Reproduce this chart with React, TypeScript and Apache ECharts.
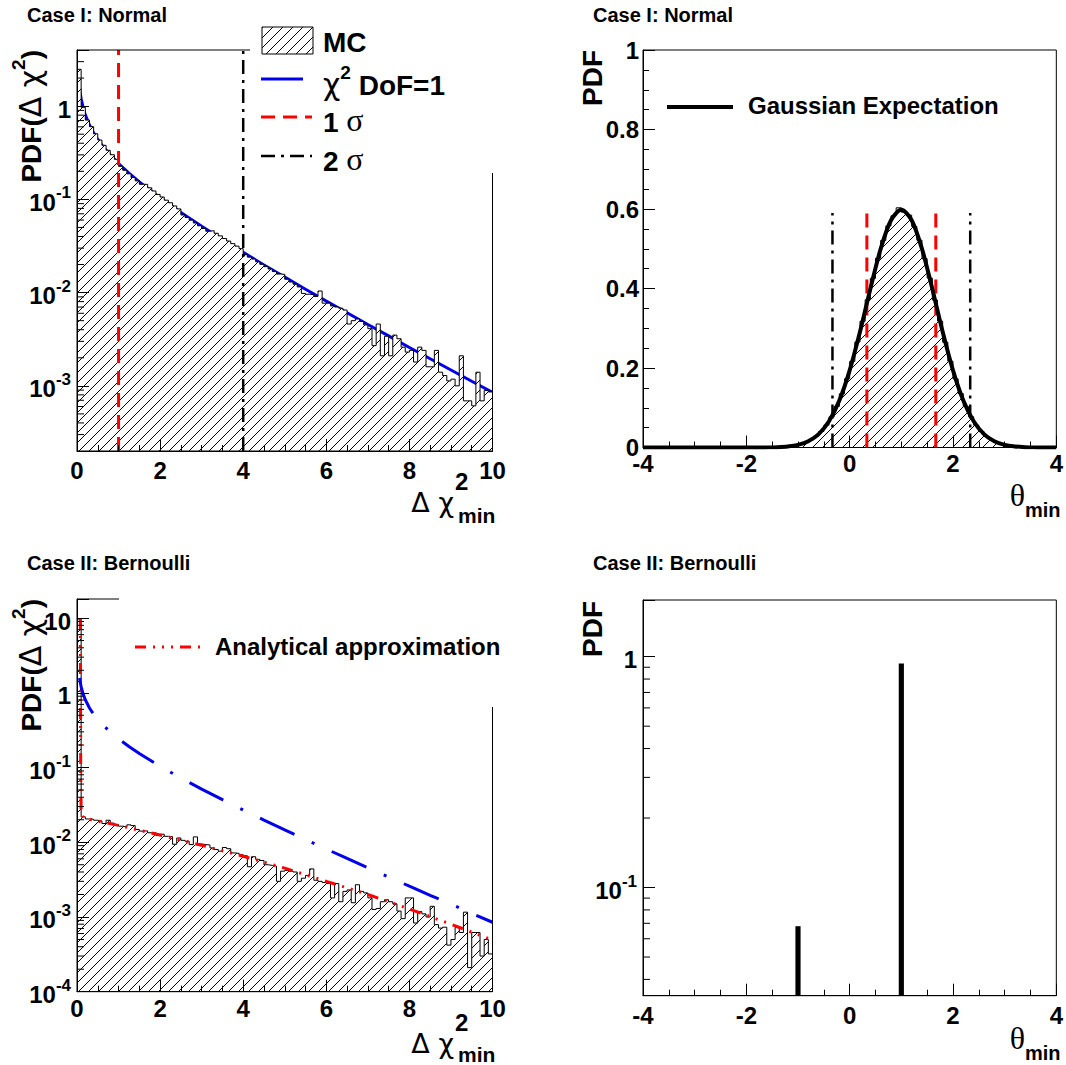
import React, { useEffect, useRef } from "react";
import * as echarts from "echarts";

const SANS = '"Liberation Sans", Arial, Helvetica, sans-serif';
const SERIF = '"Liberation Serif", "DejaVu Serif", "Times New Roman", serif';
const GREEK = '"DejaVu Sans", "Liberation Sans", sans-serif';
const BLUE = "#0000ee";
const RED = "#ff0000";

// ---------- axis ranges ----------
const DCHI2_RANGE = [0, 10];
const THETA_RANGE = [-4, 4];
const NORMAL_PDF_RANGE = [2e-4, 4];
const NORMAL_THETA_PDF_RANGE = [0, 1];
const BERN_PDF_RANGE = [1e-4, 18];
const BERN_THETA_PDF_RANGE = [0.034, 1.76];

// ---------- Case I: Normal, Δχ²_min histogram (bins of 0.1 on [0,10]) ----------
const DCHI2_BIN_WIDTH = 0.1;
const NORMAL_DCHI2_HIST = [
  2.482, 0.971, 0.7085, 0.602, 0.505, 0.433, 0.38, 0.336, 0.301, 0.269,
  0.226, 0.205, 0.188, 0.172, 0.158, 0.145, 0.145, 0.133, 0.123, 0.113,
  0.106, 0.098, 0.092, 0.085, 0.079, 0.068, 0.064, 0.0598, 0.0558, 0.0521,
  0.0487, 0.0455, 0.0462, 0.0433, 0.0406, 0.038, 0.0357, 0.0335, 0.0315, 0.0296,
  0.0255, 0.024, 0.0229, 0.0214, 0.0201, 0.019, 0.0179, 0.0168, 0.0158, 0.0157,
  0.0139, 0.013, 0.0123, 0.0115, 0.0098, 0.0096, 0.0095, 0.0091, 0.0104, 0.0077,
  0.0077, 0.0072, 0.007, 0.0068, 0.0065, 0.0046, 0.005, 0.0052, 0.0049, 0.0045,
  0.0041, 0.0027, 0.0046, 0.0021, 0.0034, 0.0021, 0.0035, 0.0032, 0.0026, 0.0023,
  0.0024, 0.0018, 0.0026, 0.0024, 0.0016, 0.0016, 0.0024, 0.0014, 0.00129, 0.00113,
  0.00118, 0.001, 0.0021, 0.00069, 0.00069, 0.00061, 0.0014, 0.00069, 0.00089, 0.00086,
];

// ---------- Case II: Bernoulli, Δχ²_min histogram ----------
const BERNOULLI_DCHI2_HIST = [
  9.7, 0.0219, 0.0205, 0.0203, 0.0197, 0.0193, 0.0178, 0.0197, 0.018, 0.0172,
  0.0164, 0.0161, 0.0171, 0.0167, 0.0148, 0.0141, 0.0142, 0.0134, 0.0134, 0.0123,
  0.0128, 0.012, 0.0119, 0.0094, 0.0114, 0.0106, 0.0103, 0.0093, 0.0118, 0.0095,
  0.0093, 0.0092, 0.0084, 0.008, 0.0076, 0.0085, 0.0082, 0.0072, 0.0071, 0.0068,
  0.0066, 0.0047, 0.0064, 0.0059, 0.0057, 0.005, 0.0049, 0.0048, 0.003, 0.0041,
  0.0042, 0.0041, 0.004, 0.003, 0.0033, 0.0036, 0.0044, 0.0031, 0.003, 0.0029,
  0.0028, 0.0018, 0.0028, 0.0016, 0.0022, 0.0023, 0.00155, 0.0027, 0.0022, 0.0021,
  0.0018, 0.00126, 0.0013, 0.0016, 0.0017, 0.0016, 0.0015, 0.0012, 0.00095, 0.0018,
  0.0018, 0.00083, 0.00118, 0.0011, 0.001, 0.00139, 0.00079, 0.00071, 0.00073, 0.00042,
  0.0005, 0.00072, 0.00062, 0.00116, 0.00021, 0.00062, 0.00062, 0.0003, 0.0005, 0.00032,
];

// ---------- χ² (1 DoF) curve ----------
const CHI2_X = [0.06, 0.1, 0.15, 0.2, 0.3, 0.4, 0.5, 0.6, 0.8, 1, 1.25, 1.5, 2, 2.5, 3, 3.5, 4, 4.5, 5, 5.5, 6, 6.5, 7, 7.5, 8, 8.5, 9, 9.5, 10];
const CHI2_Y = [1.58, 1.2, 0.956, 0.807, 0.627, 0.516, 0.439, 0.382, 0.299, 0.242, 0.191, 0.154, 0.1038, 0.0723, 0.0514, 0.0371, 0.027, 0.0198, 0.01464, 0.01087, 0.00811, 0.00607, 0.00455, 0.00343, 0.00258, 0.00195, 0.00148, 0.00112, 0.00085];

// ---------- analytical approximation (Bernoulli) ----------
const APPROX_X = [0.08, 0.085, 0.09, 0.1, 0.15, 0.5, 1, 2, 3, 4, 5, 6, 7, 8, 9, 10];
const APPROX_Y = [10, 1, 0.08, 0.025, 0.0213, 0.0192, 0.0168, 0.0125, 0.0091, 0.0065, 0.0045, 0.003, 0.002, 0.00128, 0.0008, 0.00049];

// ---------- Case I: Normal, θ_min histogram ----------
const THETA_HIST_START = -1.3;
const THETA_BIN_WIDTH = 0.1;
const NORMAL_THETA_HIST = [
  0.002, 0.0033, 0.0053, 0.0083, 0.0127, 0.0191, 0.028, 0.0401, 0.0562, 0.077,
  0.1031, 0.1351, 0.173, 0.2167, 0.2653, 0.3176, 0.3718, 0.4255, 0.4762, 0.521,
  0.5574, 0.583, 0.603, 0.592, 0.5845, 0.556, 0.5215, 0.475, 0.4262, 0.371,
  0.318, 0.2648, 0.217, 0.1725, 0.1355, 0.1028, 0.0772, 0.056, 0.0403, 0.0278,
  0.0192, 0.0126, 0.0084, 0.0052, 0.0034, 0.002,
];

// Gaussian expectation
const GAUSS_X = [-4, -3, -2.2, -1.8, -1.6, -1.4, -1.2, -1, -0.8, -0.6, -0.4, -0.2, 0, 0.2, 0.4, 0.6, 0.8, 1, 1.2, 1.4, 1.6, 1.8, 2, 2.2, 2.4, 2.6, 2.8, 3, 3.2, 3.4, 3.6, 3.8, 4];
const GAUSS_Y = [0, 0, 0.00001, 0.0001, 0.0003, 0.00092, 0.00258, 0.00664, 0.0156, 0.0336, 0.0659, 0.1183, 0.1942, 0.2911, 0.3989, 0.4995, 0.5717, 0.598, 0.5717, 0.4995, 0.3989, 0.2911, 0.1942, 0.1183, 0.0659, 0.0336, 0.0156, 0.00664, 0.00258, 0.00092, 0.0003, 0.0001, 0];

// sigma lines
const SIGMA1_DCHI2 = 1;
const SIGMA2_DCHI2 = 4;
const SIGMA1_THETA = [0.333, 1.667];
const SIGMA2_THETA = [-0.333, 2.333];
const SIGMA_LINE_TOP = 0.59;

// ---------- Case II: Bernoulli θ_min ----------
const BERN_THETA_X = [-1, 1];
const BERN_THETA_Y = [0.068, 0.935];

// ---------- helpers ----------
const HATCH_SVG =
  "<svg xmlns='http://www.w3.org/2000/svg' width='10' height='10'>" +
  "<rect width='10' height='10' fill='#ffffff'/>" +
  "<path d='M-2,12L12,-2M-2,2L2,-2M8,12L12,8' stroke='#000000' stroke-width='1'/></svg>";
const HATCH_URL = "data:image/svg+xml;charset=utf-8," + encodeURIComponent(HATCH_SVG);
const hatch = () => ({ image: HATCH_URL, repeat: "repeat", imageWidth: 10, imageHeight: 10 });

function zip(xs: number[], ys: number[]) {
  return xs.map((x, i) => [x, ys[i]]);
}
function histSteps(start: number, width: number, vals: number[]) {
  const pts = vals.map((v, i) => [+(start + i * width).toFixed(4), v]);
  pts.push([+(start + vals.length * width).toFixed(4), vals[vals.length - 1]]);
  return pts;
}
function minorLogValues(min: number, max: number) {
  const out: number[] = [];
  for (let d = Math.floor(Math.log10(min)) - 1; d <= Math.ceil(Math.log10(max)); d++) {
    for (let m = 2; m <= 9; m++) {
      const v = m * Math.pow(10, d);
      if (v > min * 1.0001 && v < max * 0.9999) out.push(v);
    }
  }
  return out;
}
function logLabel(v: number) {
  const l = Math.log10(v);
  const e = Math.round(l);
  if (Math.abs(l - e) > 1e-6) return "";
  if (e === 0) return "{b|1}";
  if (e === 1) return "{b|10}";
  return "{b|10}{s|" + e + "}";
}

const AXIS_LINE = { show: true, onZero: false, lineStyle: { color: "#000", width: 1 } };
const MAJOR_TICK = { show: true, inside: true, length: 12, lineStyle: { color: "#000", width: 1 } };
const MINOR_TICK = { show: true, splitNumber: 4, length: 6, lineStyle: { color: "#000", width: 1 } };
const LABEL_BASE = { color: "#000", fontFamily: SANS, fontWeight: "bold", fontSize: 24 };

function linearAxis(gridIndex: number, range: number[], interval: number, margin: number) {
  return {
    type: "value", gridIndex, min: range[0], max: range[1], interval, z: 10,
    axisLine: AXIS_LINE, axisTick: MAJOR_TICK, minorTick: MINOR_TICK,
    splitLine: { show: false }, minorSplitLine: { show: false },
    axisLabel: { ...LABEL_BASE, margin },
  };
}
function logAxis(gridIndex: number, range: number[], margin: number) {
  return {
    type: "log", logBase: 10, gridIndex, min: range[0], max: range[1], z: 10,
    axisLine: AXIS_LINE, axisTick: MAJOR_TICK, minorTick: { show: false },
    splitLine: { show: false },
    axisLabel: {
      ...LABEL_BASE, margin, formatter: logLabel,
      rich: {
        b: { fontFamily: SANS, fontWeight: "bold", fontSize: 24, color: "#000", lineHeight: 30, verticalAlign: "bottom" },
        s: { fontFamily: SANS, fontWeight: "bold", fontSize: 17, color: "#000", lineHeight: 17, verticalAlign: "top" },
      },
    },
  };
}
function curve(grid: number, data: any[], color: string, width: number, type: any, z: number, extra: any = {}) {
  return {
    type: "line", xAxisIndex: grid, yAxisIndex: grid, data, symbol: "none", showSymbol: false,
    silent: true, z, lineStyle: { color, width, type }, ...extra,
  };
}
function hist(grid: number, data: any[]) {
  return {
    type: "line", xAxisIndex: grid, yAxisIndex: grid, data, step: "end", symbol: "none",
    showSymbol: false, silent: true, z: 2,
    lineStyle: { color: "#000", width: 1 },
    areaStyle: { color: hatch(), opacity: 1, origin: "start" },
  };
}
function minorLogTicks(grid: number, xMin: number, range: number[]) {
  return {
    type: "custom", xAxisIndex: grid, yAxisIndex: grid, silent: true, z: 6, clip: false,
    data: minorLogValues(range[0], range[1]).map((v) => [xMin, v]),
    renderItem: (params: any, api: any) => {
      const p = api.coord([api.value(0), api.value(1)]);
      return {
        type: "line",
        shape: { x1: p[0], y1: p[1], x2: p[0] + 7, y2: p[1] },
        style: { stroke: "#000", lineWidth: 1 },
      };
    },
  };
}

// text helpers for graphic
const RICH = (size: number, supSize: number) => ({
  b: { fontFamily: SANS, fontWeight: "bold", fontSize: size, fill: "#000", lineHeight: size + 8, verticalAlign: "bottom" },
  g: { fontFamily: SERIF, fontWeight: "normal", fontSize: size + 4, fill: "#000", lineHeight: size + 8, verticalAlign: "bottom" },
  h: { fontFamily: GREEK, fontWeight: "normal", fontSize: size + 2, fill: "#000", lineHeight: size + 8, verticalAlign: "bottom" },
  s: { fontFamily: SANS, fontWeight: "bold", fontSize: supSize, fill: "#000", lineHeight: supSize, verticalAlign: "top" },
});
function txt(text: string, x: number, y: number, size: number, opts: any = {}) {
  const align = opts.align || "left";
  return {
    type: "text", x, y, z: 120, silent: true,
    rotation: opts.rotation || 0,
    style: {
      text, fill: "#000",
      fontFamily: opts.family || SANS, fontWeight: opts.weight || "bold", fontSize: size,
      align, textAlign: align, verticalAlign: "middle", textVerticalAlign: "middle",
      rich: opts.rich,
    },
  };
}
function gline(x1: number, y1: number, x2: number, y2: number, color: string, width: number, dash?: number[]) {
  return {
    type: "line", z: 120, silent: true,
    shape: { x1, y1, x2, y2 },
    style: { stroke: color, lineWidth: width, lineDash: dash || null },
  };
}

function buildOption() {
  const grids = [
    { left: 77, top: 50, width: 415.5, height: 401 },
    { left: 643, top: 50, width: 416, height: 397.5 },
    { left: 77, top: 599, width: 415.5, height: 392.7 },
    { left: 643, top: 600, width: 416, height: 395.7 },
  ].map((g) => ({ ...g, show: true, borderColor: "#000", borderWidth: 1, backgroundColor: "transparent", z: 10 }));

  const series: any[] = [
    // ---- top-left ----
    curve(0, zip(CHI2_X, CHI2_Y), BLUE, 3, "solid", 1),
    hist(0, histSteps(DCHI2_RANGE[0], DCHI2_BIN_WIDTH, NORMAL_DCHI2_HIST)),
    curve(0, [[SIGMA1_DCHI2, NORMAL_PDF_RANGE[0]], [SIGMA1_DCHI2, NORMAL_PDF_RANGE[1]]], RED, 3, [14, 8], 3),
    curve(0, [[SIGMA2_DCHI2, NORMAL_PDF_RANGE[0]], [SIGMA2_DCHI2, NORMAL_PDF_RANGE[1]]], "#000", 2.5, [14, 6, 3, 6], 3),
    minorLogTicks(0, DCHI2_RANGE[0], NORMAL_PDF_RANGE),
    // ---- top-right ----
    hist(1, histSteps(THETA_HIST_START, THETA_BIN_WIDTH, NORMAL_THETA_HIST)),
    ...SIGMA1_THETA.map((x) => curve(1, [[x, 0], [x, SIGMA_LINE_TOP]], RED, 3, [14, 8], 3)),
    ...SIGMA2_THETA.map((x) => curve(1, [[x, 0], [x, SIGMA_LINE_TOP]], "#000", 2.5, [14, 6, 3, 6], 3)),
    curve(1, zip(GAUSS_X, GAUSS_Y), "#000", 4, "solid", 4, { smooth: 0.3 }),
    // ---- bottom-left ----
    hist(2, histSteps(DCHI2_RANGE[0], DCHI2_BIN_WIDTH, BERNOULLI_DCHI2_HIST)),
    curve(2, zip(APPROX_X, APPROX_Y), RED, 3, [11, 7, 2, 7, 2, 7, 2, 7], 3),
    curve(2, zip(CHI2_X, CHI2_Y), BLUE, 3, [38, 19, 3, 19], 4),
    minorLogTicks(2, DCHI2_RANGE[0], BERN_PDF_RANGE),
    // ---- bottom-right ----
    {
      type: "custom", xAxisIndex: 3, yAxisIndex: 3, silent: true, z: 3,
      data: zip(BERN_THETA_X, BERN_THETA_Y),
      renderItem: (params: any, api: any) => {
        const x = api.value(0);
        const y = api.value(1);
        const l = api.coord([x - THETA_BIN_WIDTH / 2, y]);
        const r = api.coord([x + THETA_BIN_WIDTH / 2, y]);
        const cs = params.coordSys;
        return {
          type: "rect",
          shape: { x: l[0], y: l[1], width: r[0] - l[0], height: cs.y + cs.height - l[1] },
          style: { fill: "#000" },
        };
      },
    },
    minorLogTicks(3, THETA_RANGE[0], BERN_THETA_PDF_RANGE),
  ];

  const pdfChi = "{b|PDF(}{h|Δ χ}{s|2}{b|)}";
  const graphicEls: any[] = [
    // titles
    txt("Case I: Normal", 27, 15, 20),
    txt("Case I: Normal", 593, 15, 20),
    txt("Case II: Bernoulli", 27, 563, 20),
    txt("Case II: Bernoulli", 593, 563, 20),
    // y titles
    txt(pdfChi, 27, 50, 28, { align: "right", rotation: Math.PI / 2, rich: RICH(28, 19) }),
    txt(pdfChi, 27, 599, 28, { align: "right", rotation: Math.PI / 2, rich: RICH(28, 19) }),
    txt("PDF", 592, 50, 28, { align: "right", rotation: Math.PI / 2 }),
    txt("PDF", 592, 601, 28, { align: "right", rotation: Math.PI / 2 }),
    // x titles (Δχ²_min)
    txt("Δ χ", 454, 502, 27, { align: "right", family: GREEK, weight: "normal" }),
    txt("2", 455, 481, 24),
    txt("min", 458, 515, 21),
    txt("Δ χ", 454, 1043, 27, { align: "right", family: GREEK, weight: "normal" }),
    txt("2", 455, 1022, 24),
    txt("min", 458, 1054, 21),
    // θ_min
    txt("θ", 1025, 495, 32, { align: "right", family: SERIF, weight: "normal" }),
    txt("min", 1025, 510, 20),
    txt("θ", 1025, 1038, 32, { align: "right", family: SERIF, weight: "normal" }),
    txt("min", 1025, 1053, 20),
    // ---- top-left legend ----
    { type: "rect", z: 110, silent: true, shape: { x: 250, y: 20, width: 260, height: 153 }, style: { fill: "#fff" } },
    { type: "rect", z: 120, silent: true, shape: { x: 262, y: 27, width: 51, height: 27 }, style: { fill: hatch(), stroke: "#000", lineWidth: 1 } },
    txt("MC", 323, 42, 28),
    gline(261, 79, 303, 79, BLUE, 3),
    txt("{h|χ}{s|2}{b| DoF=1}", 323, 81, 28, { rich: RICH(28, 19) }),
    gline(261, 117, 312, 117, RED, 3, [14, 8]),
    txt("{b|1 }{g|σ}", 323, 118, 28, { rich: RICH(28, 19) }),
    gline(261, 156, 312, 156, "#000", 2.5, [14, 6, 3, 6]),
    txt("{b|2 }{g|σ}", 323, 157, 28, { rich: RICH(28, 19) }),
    // ---- top-right legend ----
    gline(667, 107, 733, 107, "#000", 4),
    txt("Gaussian Expectation", 748, 105, 24),
    // ---- bottom-left legend ----
    { type: "rect", z: 110, silent: true, shape: { x: 119, y: 588, width: 390, height: 119 }, style: { fill: "#fff" } },
    gline(135, 647, 200, 647, RED, 3, [11, 7, 2, 7, 2, 7, 2, 7]),
    txt("Analytical approximation", 215, 646, 24),
  ];

  return {
    animation: false,
    backgroundColor: "#fff",
    grid: grids,
    xAxis: [
      linearAxis(0, DCHI2_RANGE, 2, 7),
      linearAxis(1, THETA_RANGE, 2, 4),
      linearAxis(2, DCHI2_RANGE, 2, 5),
      linearAxis(3, THETA_RANGE, 2, 8),
    ],
    yAxis: [
      logAxis(0, NORMAL_PDF_RANGE, 6),
      linearAxis(1, NORMAL_THETA_PDF_RANGE, 0.2, 4),
      logAxis(2, BERN_PDF_RANGE, 6),
      logAxis(3, BERN_THETA_PDF_RANGE, 6),
    ],
    series,
    graphic: { elements: graphicEls },
  };
}

export default function App() {
  const ref = useRef<HTMLDivElement>(null);
  useEffect(() => {
    if (!ref.current) return;
    const chart = echarts.init(ref.current, undefined, { renderer: "svg" });
    chart.setOption(buildOption() as any);
    return () => chart.dispose();
  }, []);
  return (
    <div
      ref={ref}
      style={{ position: "absolute", left: 0, top: 0, width: 1066, height: 1065, background: "#fff" }}
    />
  );
}
